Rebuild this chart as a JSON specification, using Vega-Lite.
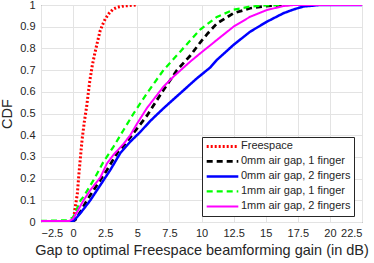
{
  "$schema": "https://vega.github.io/schema/vega-lite/v6.json",
  "width": 321,
  "height": 217,
  "autosize": "none",
  "padding": {"left": 41, "top": 5, "right": 12, "bottom": 41},
  "background": "white",
  "config": {
    "font": "Liberation Sans",
    "view": {"stroke": "#4d4d4d", "strokeWidth": 1},
    "axis": {
      "grid": true,
      "gridColor": "#e3e3e3",
      "gridWidth": 1,
      "domain": false,
      "ticks": false,
      "labelFont": "Liberation Sans",
      "labelFontSize": 11,
      "labelColor": "#262626",
      "titleFont": "Liberation Sans",
      "titleFontSize": 14.5,
      "titleFontWeight": "normal",
      "titleColor": "#262626"
    }
  },
  "data": {
    "values": [
      {"s": "Freespace", "o": 1, "x": 0.0, "y": 0.0},
      {"s": "Freespace", "o": 2, "x": 0.17, "y": 0.07},
      {"s": "Freespace", "o": 3, "x": 0.33, "y": 0.13},
      {"s": "Freespace", "o": 4, "x": 0.45, "y": 0.22},
      {"s": "Freespace", "o": 5, "x": 0.7, "y": 0.38},
      {"s": "Freespace", "o": 6, "x": 0.87, "y": 0.46},
      {"s": "Freespace", "o": 7, "x": 1.05, "y": 0.53},
      {"s": "Freespace", "o": 8, "x": 1.3, "y": 0.65},
      {"s": "Freespace", "o": 9, "x": 1.49, "y": 0.72},
      {"s": "Freespace", "o": 10, "x": 1.7, "y": 0.78},
      {"s": "Freespace", "o": 11, "x": 1.9, "y": 0.83},
      {"s": "Freespace", "o": 12, "x": 2.1, "y": 0.88},
      {"s": "Freespace", "o": 13, "x": 2.3, "y": 0.91},
      {"s": "Freespace", "o": 14, "x": 2.5, "y": 0.935},
      {"s": "Freespace", "o": 15, "x": 2.78, "y": 0.96},
      {"s": "Freespace", "o": 16, "x": 3.1, "y": 0.98},
      {"s": "Freespace", "o": 17, "x": 3.45, "y": 0.99},
      {"s": "Freespace", "o": 18, "x": 4.0, "y": 0.996},
      {"s": "Freespace", "o": 19, "x": 5.0, "y": 1.0},

      {"s": "0mm air gap, 1 finger", "o": 1, "x": -2.5, "y": 0.003},
      {"s": "0mm air gap, 1 finger", "o": 2, "x": -0.3, "y": 0.003},
      {"s": "0mm air gap, 1 finger", "o": 3, "x": 0.0, "y": 0.005},
      {"s": "0mm air gap, 1 finger", "o": 4, "x": 0.17, "y": 0.01},
      {"s": "0mm air gap, 1 finger", "o": 5, "x": 0.6, "y": 0.05},
      {"s": "0mm air gap, 1 finger", "o": 6, "x": 1.08, "y": 0.1},
      {"s": "0mm air gap, 1 finger", "o": 7, "x": 1.86, "y": 0.17},
      {"s": "0mm air gap, 1 finger", "o": 8, "x": 2.64, "y": 0.24},
      {"s": "0mm air gap, 1 finger", "o": 9, "x": 3.42, "y": 0.317},
      {"s": "0mm air gap, 1 finger", "o": 10, "x": 4.2, "y": 0.37},
      {"s": "0mm air gap, 1 finger", "o": 11, "x": 4.97, "y": 0.43},
      {"s": "0mm air gap, 1 finger", "o": 12, "x": 5.75, "y": 0.49},
      {"s": "0mm air gap, 1 finger", "o": 13, "x": 6.4, "y": 0.55},
      {"s": "0mm air gap, 1 finger", "o": 14, "x": 7.04, "y": 0.608},
      {"s": "0mm air gap, 1 finger", "o": 15, "x": 8.09, "y": 0.7},
      {"s": "0mm air gap, 1 finger", "o": 16, "x": 9.1, "y": 0.765},
      {"s": "0mm air gap, 1 finger", "o": 17, "x": 10.0, "y": 0.835},
      {"s": "0mm air gap, 1 finger", "o": 18, "x": 10.5, "y": 0.87},
      {"s": "0mm air gap, 1 finger", "o": 19, "x": 11.2, "y": 0.915},
      {"s": "0mm air gap, 1 finger", "o": 20, "x": 12.49, "y": 0.962},
      {"s": "0mm air gap, 1 finger", "o": 21, "x": 13.79, "y": 0.985},
      {"s": "0mm air gap, 1 finger", "o": 22, "x": 15.0, "y": 0.995},
      {"s": "0mm air gap, 1 finger", "o": 23, "x": 16.5, "y": 1.0},

      {"s": "0mm air gap, 2 fingers", "o": 1, "x": -2.5, "y": 0.002},
      {"s": "0mm air gap, 2 fingers", "o": 2, "x": 0.0, "y": 0.003},
      {"s": "0mm air gap, 2 fingers", "o": 3, "x": 0.33, "y": 0.024},
      {"s": "0mm air gap, 2 fingers", "o": 4, "x": 0.56, "y": 0.04},
      {"s": "0mm air gap, 2 fingers", "o": 5, "x": 1.34, "y": 0.1},
      {"s": "0mm air gap, 2 fingers", "o": 6, "x": 2.12, "y": 0.17},
      {"s": "0mm air gap, 2 fingers", "o": 7, "x": 2.9, "y": 0.24},
      {"s": "0mm air gap, 2 fingers", "o": 8, "x": 3.67, "y": 0.317},
      {"s": "0mm air gap, 2 fingers", "o": 9, "x": 4.45, "y": 0.37},
      {"s": "0mm air gap, 2 fingers", "o": 10, "x": 5.23, "y": 0.415},
      {"s": "0mm air gap, 2 fingers", "o": 11, "x": 6.0, "y": 0.465},
      {"s": "0mm air gap, 2 fingers", "o": 12, "x": 7.04, "y": 0.524},
      {"s": "0mm air gap, 2 fingers", "o": 13, "x": 8.34, "y": 0.593},
      {"s": "0mm air gap, 2 fingers", "o": 14, "x": 9.64, "y": 0.662},
      {"s": "0mm air gap, 2 fingers", "o": 15, "x": 10.68, "y": 0.712},
      {"s": "0mm air gap, 2 fingers", "o": 16, "x": 11.2, "y": 0.747},
      {"s": "0mm air gap, 2 fingers", "o": 17, "x": 12.49, "y": 0.816},
      {"s": "0mm air gap, 2 fingers", "o": 18, "x": 13.79, "y": 0.877},
      {"s": "0mm air gap, 2 fingers", "o": 19, "x": 15.09, "y": 0.923},
      {"s": "0mm air gap, 2 fingers", "o": 20, "x": 16.38, "y": 0.962},
      {"s": "0mm air gap, 2 fingers", "o": 21, "x": 17.2, "y": 0.98},
      {"s": "0mm air gap, 2 fingers", "o": 22, "x": 17.94, "y": 0.993},
      {"s": "0mm air gap, 2 fingers", "o": 23, "x": 19.2, "y": 1.0},
      {"s": "0mm air gap, 2 fingers", "o": 24, "x": 22.5, "y": 1.0},

      {"s": "1mm air gap, 1 finger", "o": 1, "x": -2.5, "y": 0.005},
      {"s": "1mm air gap, 1 finger", "o": 2, "x": -0.5, "y": 0.008},
      {"s": "1mm air gap, 1 finger", "o": 3, "x": 0.0, "y": 0.02},
      {"s": "1mm air gap, 1 finger", "o": 4, "x": 0.58, "y": 0.1},
      {"s": "1mm air gap, 1 finger", "o": 5, "x": 0.82, "y": 0.117},
      {"s": "1mm air gap, 1 finger", "o": 6, "x": 1.6, "y": 0.194},
      {"s": "1mm air gap, 1 finger", "o": 7, "x": 2.37, "y": 0.278},
      {"s": "1mm air gap, 1 finger", "o": 8, "x": 3.15, "y": 0.347},
      {"s": "1mm air gap, 1 finger", "o": 9, "x": 3.93, "y": 0.424},
      {"s": "1mm air gap, 1 finger", "o": 10, "x": 4.71, "y": 0.5},
      {"s": "1mm air gap, 1 finger", "o": 11, "x": 5.75, "y": 0.593},
      {"s": "1mm air gap, 1 finger", "o": 12, "x": 7.04, "y": 0.7},
      {"s": "1mm air gap, 1 finger", "o": 13, "x": 8.34, "y": 0.785},
      {"s": "1mm air gap, 1 finger", "o": 14, "x": 9.1, "y": 0.835},
      {"s": "1mm air gap, 1 finger", "o": 15, "x": 9.9, "y": 0.887},
      {"s": "1mm air gap, 1 finger", "o": 16, "x": 11.2, "y": 0.945},
      {"s": "1mm air gap, 1 finger", "o": 17, "x": 12.49, "y": 0.978},
      {"s": "1mm air gap, 1 finger", "o": 18, "x": 13.79, "y": 0.993},
      {"s": "1mm air gap, 1 finger", "o": 19, "x": 15.0, "y": 0.998},
      {"s": "1mm air gap, 1 finger", "o": 20, "x": 17.0, "y": 1.0},

      {"s": "1mm air gap, 2 fingers", "o": 1, "x": -2.5, "y": 0.005},
      {"s": "1mm air gap, 2 fingers", "o": 2, "x": -0.3, "y": 0.005},
      {"s": "1mm air gap, 2 fingers", "o": 3, "x": 0.0, "y": 0.015},
      {"s": "1mm air gap, 2 fingers", "o": 4, "x": 0.1, "y": 0.025},
      {"s": "1mm air gap, 2 fingers", "o": 5, "x": 0.82, "y": 0.1},
      {"s": "1mm air gap, 2 fingers", "o": 6, "x": 1.34, "y": 0.147},
      {"s": "1mm air gap, 2 fingers", "o": 7, "x": 2.12, "y": 0.205},
      {"s": "1mm air gap, 2 fingers", "o": 8, "x": 2.64, "y": 0.27},
      {"s": "1mm air gap, 2 fingers", "o": 9, "x": 3.15, "y": 0.31},
      {"s": "1mm air gap, 2 fingers", "o": 10, "x": 3.93, "y": 0.36},
      {"s": "1mm air gap, 2 fingers", "o": 11, "x": 4.45, "y": 0.4},
      {"s": "1mm air gap, 2 fingers", "o": 12, "x": 5.0, "y": 0.455},
      {"s": "1mm air gap, 2 fingers", "o": 13, "x": 5.75, "y": 0.525},
      {"s": "1mm air gap, 2 fingers", "o": 14, "x": 7.04, "y": 0.624},
      {"s": "1mm air gap, 2 fingers", "o": 15, "x": 7.82, "y": 0.67},
      {"s": "1mm air gap, 2 fingers", "o": 16, "x": 9.12, "y": 0.739},
      {"s": "1mm air gap, 2 fingers", "o": 17, "x": 9.9, "y": 0.777},
      {"s": "1mm air gap, 2 fingers", "o": 18, "x": 11.2, "y": 0.839},
      {"s": "1mm air gap, 2 fingers", "o": 19, "x": 12.49, "y": 0.9},
      {"s": "1mm air gap, 2 fingers", "o": 20, "x": 13.79, "y": 0.946},
      {"s": "1mm air gap, 2 fingers", "o": 21, "x": 15.09, "y": 0.977},
      {"s": "1mm air gap, 2 fingers", "o": 22, "x": 16.38, "y": 0.995},
      {"s": "1mm air gap, 2 fingers", "o": 23, "x": 17.2, "y": 1.0},
      {"s": "1mm air gap, 2 fingers", "o": 24, "x": 22.5, "y": 1.0}
    ]
  },
  "mark": {"type": "line", "clip": true},
  "encoding": {
    "x": {
      "field": "x",
      "type": "quantitative",
      "scale": {"domain": [-2.5, 22.5], "nice": false, "zero": false},
      "axis": {"values": [-2.5, 0, 2.5, 5, 7.5, 10, 12.5, 15, 17.5, 20, 22.5], "format": ".3~g", "title": "Gap to optimal Freespace beamforming gain (in dB)", "labelPadding": 5, "titlePadding": 5}
    },
    "y": {
      "field": "y",
      "type": "quantitative",
      "scale": {"domain": [0, 1], "nice": false},
      "axis": {"values": [0, 0.1, 0.2, 0.3, 0.4, 0.5, 0.6, 0.7, 0.8, 0.9, 1], "format": ".3~g", "title": "CDF", "labelPadding": 6, "titlePadding": 5}
    },
    "order": {"field": "o", "type": "quantitative"},
    "color": {
      "field": "s",
      "type": "nominal",
      "scale": {
        "domain": ["Freespace", "0mm air gap, 1 finger", "0mm air gap, 2 fingers", "1mm air gap, 1 finger", "1mm air gap, 2 fingers"],
        "range": ["#ff0000", "#000000", "#0000ff", "#00ff00", "#ff00ff"]
      },
      "legend": {
        "title": null,
        "orient": "none",
        "legendX": 161,
        "legendY": 132,
        "symbolType": "stroke",
        "symbolSize": 1000,
        "symbolStrokeWidth": 2,
        "clipHeight": 12.8,
        "labelFont": "Liberation Sans",
        "labelFontSize": 11,
        "labelColor": "#262626",
        "labelOffset": 1,
        "rowPadding": 2,
        "padding": 3,
        "strokeColor": "#262626",
        "fillColor": "white"
      }
    },
    "strokeDash": {
      "field": "s",
      "type": "nominal",
      "scale": {
        "domain": ["Freespace", "0mm air gap, 1 finger", "0mm air gap, 2 fingers", "1mm air gap, 1 finger", "1mm air gap, 2 fingers"],
        "range": [[2, 2], [6, 4], [1, 0], [6, 4], [1, 0]]
      }
    },
    "strokeWidth": {
      "field": "s",
      "type": "nominal",
      "scale": {
        "domain": ["Freespace", "0mm air gap, 1 finger", "0mm air gap, 2 fingers", "1mm air gap, 1 finger", "1mm air gap, 2 fingers"],
        "range": [3, 2, 2, 2, 2]
      },
      "legend": null
    }
  }
}
